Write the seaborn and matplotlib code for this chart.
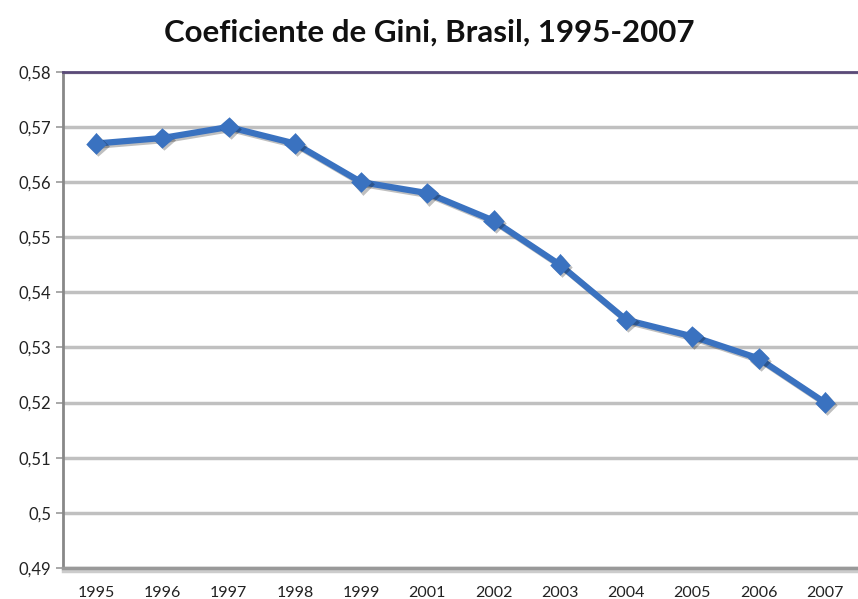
import matplotlib
matplotlib.use("Agg")
import matplotlib.pyplot as plt
import matplotlib.patheffects as pe
from matplotlib.ticker import FixedLocator, FuncFormatter
import seaborn as sns
import pandas as pd

years = ["1995", "1996", "1997", "1998", "1999", "2001",
         "2002", "2003", "2004", "2005", "2006", "2007"]
gini = [0.567, 0.568, 0.570, 0.567, 0.560, 0.558,
        0.553, 0.545, 0.535, 0.532, 0.528, 0.520]
y_ticks = [0.49, 0.50, 0.51, 0.52, 0.53, 0.54, 0.55, 0.56, 0.57, 0.58]

df = pd.DataFrame({"Ano": years, "Gini": gini})

sns.set_style("white")
plt.rcParams["font.family"] = ["Lato", "DejaVu Sans"]

fig = plt.figure(figsize=(8.58, 5.99), dpi=100)
ax = fig.add_axes([0.0734, 0.052, 0.9266, 0.828])

line_color = "#3a72c0"
sns.pointplot(data=df, x="Ano", y="Gini", ax=ax, color=line_color,
              markers="D", markersize=7.5, linewidth=4.5)
shadow = [pe.SimpleLineShadow(offset=(1.5, -1.5), alpha=0.25), pe.Normal()]
for ln in ax.lines:
    ln.set_path_effects(shadow)
for coll in ax.collections:
    coll.set_path_effects(shadow)

ax.set_ylim(0.49, 0.58)
ax.set_xlim(-0.5, len(years) - 0.5)
ax.set_yticks(y_ticks)
ax.yaxis.set_major_formatter(FuncFormatter(lambda v, p: f"{v:.2f}".rstrip("0").replace(".", ",")))
ax.yaxis.grid(True, color="#c0c0c0", linewidth=2.5)
ax.set_axisbelow(True)

# category labels at centres, tick marks between categories
ax.set_xticks(range(len(years)))
ax.set_xticklabels(years)
ax.xaxis.set_minor_locator(FixedLocator([i - 0.5 for i in range(len(years) + 1)]))
ax.tick_params(axis="x", which="major", length=0, labelsize=11.5, colors="#222222", pad=13)
ax.tick_params(axis="x", which="minor", length=5, width=1.2, color="#999999", direction="out")
ax.tick_params(axis="y", length=5, width=1.2, color="#999999", direction="out",
               labelsize=12, labelcolor="#222222", left=True)

ax.set_xlabel("")
ax.set_ylabel("")

ax.spines["right"].set_visible(False)
ax.spines["top"].set_color("#5a4a78")
ax.spines["top"].set_linewidth(2)
ax.spines["left"].set_color("#888888")
ax.spines["left"].set_linewidth(2)
ax.spines["bottom"].set_color("#999999")
ax.spines["bottom"].set_linewidth(2.5)
ax.spines["bottom"].set_path_effects([pe.SimpleLineShadow(offset=(0, -2), alpha=0.2), pe.Normal()])

fig.text(0.5, 0.945, "Coeficiente de Gini, Brasil, 1995-2007", ha="center", va="center",
         fontsize=22.5, fontweight="bold", color="#111111")

fig.savefig("out.png", dpi=100)
